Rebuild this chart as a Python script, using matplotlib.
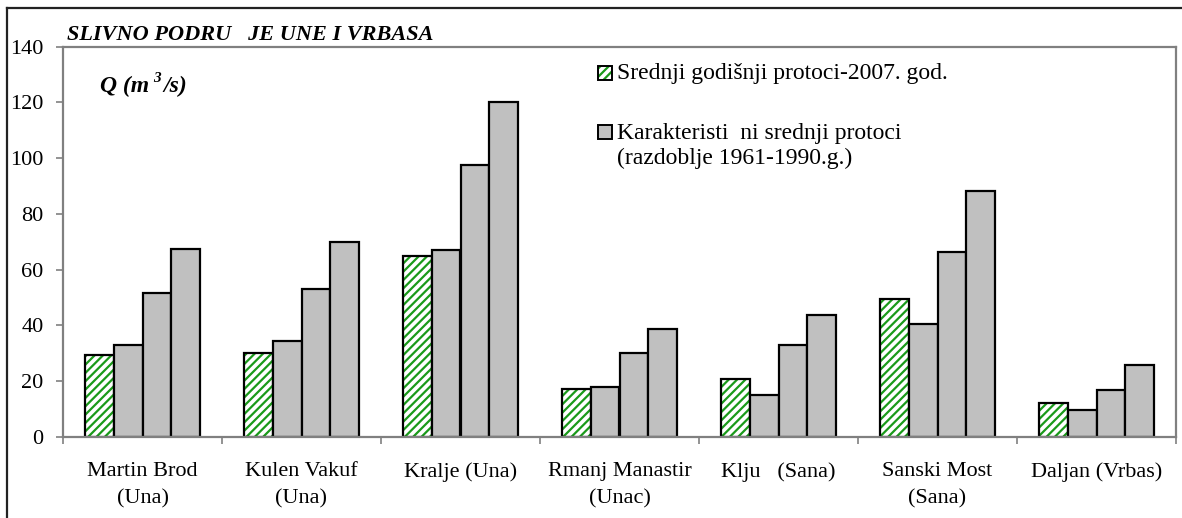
import matplotlib
matplotlib.use("Agg")
import matplotlib.pyplot as plt
from matplotlib.patches import Rectangle
from matplotlib.lines import Line2D

plt.rcParams['font.family'] = 'serif'
plt.rcParams['font.serif'] = ['Liberation Serif', 'DejaVu Serif']
plt.rcParams['hatch.linewidth'] = 1.6

# data
stations = ["Martin Brod\n(Una)", "Kulen Vakuf\n(Una)", "Kralje (Una)",
            "Rmanj Manastir\n(Unac)", "Klju   (Sana)", "Sanski Most\n(Sana)",
            "Daljan (Vrbas)"]
q_2007 = [29.3, 30.2, 65.0, 17.1, 20.9, 49.5, 12.2]
q_char1 = [33.0, 34.5, 67.0, 18.1, 15.2, 40.5, 9.7]
q_char2 = [51.6, 53.0, 97.5, 30.0, 32.9, 66.5, 16.9]
q_char3 = [67.4, 70.0, 120.0, 38.9, 43.9, 88.3, 26.0]

title = "SLIVNO PODRU   JE UNE I VRBASA"
legend_labels = ["Srednji godišnji protoci-2007. god.",
                 "Karakteristi  ni srednji protoci\n(razdoblje 1961-1990.g.)"]

W, H = 1182, 518
fig = plt.figure(figsize=(W / 100, H / 100), dpi=100)


def fx(px):
    return px / W


def fy(py):
    return 1 - py / H


ax = fig.add_axes([fx(63), fy(437), fx(1176) - fx(63), fy(46.7) - fy(437)])

green = '#1a9a1a'
gray = '#c0c0c0'
w = 0.182
centers = [i + 0.5 for i in range(len(stations))]

ax.bar([c - 1.5 * w for c in centers], q_2007, w, facecolor='white',
       edgecolor=green, hatch='////', linewidth=0)
ax.bar([c - 1.5 * w for c in centers], q_2007, w, fill=False,
       edgecolor='black', linewidth=1.6)
for k, vals in enumerate([q_char1, q_char2, q_char3]):
    ax.bar([c + (k - 0.5) * w for c in centers], vals, w, color=gray,
           edgecolor='black', linewidth=1.6)

ax.set_xlim(0, len(stations))
ax.set_ylim(0, 140)
ax.set_yticks(range(0, 141, 20))
ax.set_xticks(range(len(stations) + 1))
ax.set_xticklabels([])
ax.set_xticks(centers, minor=True)
ax.set_xticklabels(stations, minor=True, fontsize=16, linespacing=1.6)
ax.tick_params(axis='x', which='minor', length=0, pad=18)
ax.tick_params(axis='x', which='major', length=5, width=1.2, color='#808080')
ax.tick_params(axis='y', length=5, width=1.2, color='#808080', pad=9,
               labelsize=16)
for s in ax.spines.values():
    s.set_color('#808080')
    s.set_linewidth(1.6)

ax.text(0.004, 1.005, title, transform=ax.transAxes, fontsize=16,
        fontweight='bold', fontstyle='italic', va='bottom', ha='left')

# Q (m^3/s) label, pieced together so it stays in the serif face
fig.canvas.draw()
r = fig.canvas.get_renderer()
bi = dict(fontweight='bold', fontstyle='italic', va='baseline')
t1 = fig.text(fx(100), fy(92), "Q (m", fontsize=17, **bi)
x1 = t1.get_window_extent(r).x1 / W
t2 = fig.text(x1 + fx(4), fy(82), "3", fontsize=11, **bi)
x2 = t2.get_window_extent(r).x1 / W
fig.text(x2 + fx(3), fy(92), "/s)", fontsize=17, **bi)

# legend drawn by hand
h1 = Rectangle((fx(598), fy(80)), fx(14), fy(66) - fy(80), transform=fig.transFigure,
               facecolor='white', edgecolor=green, hatch='////', linewidth=0)
h1b = Rectangle((fx(598), fy(80)), fx(14), fy(66) - fy(80), transform=fig.transFigure,
                fill=False, edgecolor='black', linewidth=1.4)
h2 = Rectangle((fx(598), fy(139)), fx(14), fy(125) - fy(139), transform=fig.transFigure,
               facecolor=gray, edgecolor='black', linewidth=1.4)
for p in (h1, h1b, h2):
    fig.patches.append(p)
fig.text(fx(617), fy(73), legend_labels[0], fontsize=17, va='center')
fig.text(fx(617), fy(146), legend_labels[1], fontsize=17, va='center',
         linespacing=1.22)

# outer frame (top and left edges)
fig.lines.append(Line2D([fx(7), 1], [fy(8), fy(8)], transform=fig.transFigure,
                        color='#222222', linewidth=1.6))
fig.lines.append(Line2D([fx(7), fx(7)], [0, fy(8)], transform=fig.transFigure,
                        color='#222222', linewidth=1.6))

fig.savefig("out.png", dpi=100)
